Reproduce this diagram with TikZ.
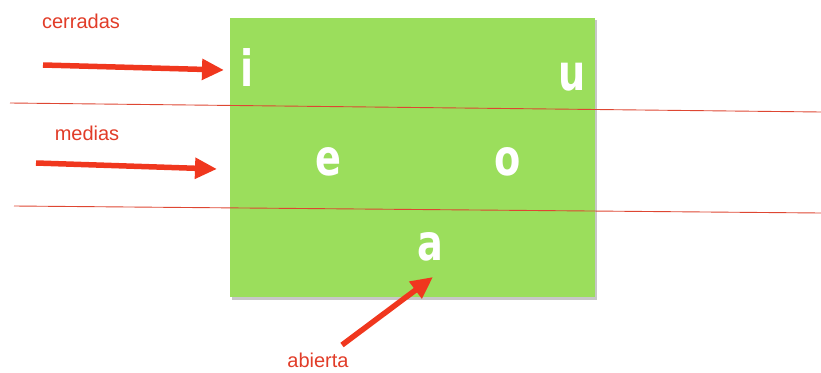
\documentclass[tikz,border=0pt]{standalone}
\usepackage{fontspec}
\setmainfont{Liberation Sans}
\newfontfamily\vowelfont{DejaVu Sans Condensed}
\usetikzlibrary{arrows.meta}
\definecolor{boxgreen}{RGB}{155,222,92}
\definecolor{linered}{RGB}{222,70,50}
\definecolor{arrowred}{RGB}{240,55,30}
\definecolor{labelred}{RGB}{225,60,40}
\tikzset{
  x=1pt,y=-1pt,
  vowel/.style={text=white,font=\vowelfont\bfseries\fontsize{50}{50}\selectfont,inner sep=0pt,xscale=0.85},
  label/.style={text=labelred,font=\fontsize{20}{20}\selectfont,inner sep=0pt},
  bigarrow/.style={draw=arrowred,line width=5.5pt,-{Triangle[length=22pt,width=20pt]}},
  divline/.style={draw=linered,line width=0.9pt}
}
\begin{document}
\begin{tikzpicture}
\useasboundingbox (0,0) rectangle (821,372);
\fill[black!22] (232,20) rectangle (597,300);
\fill[boxgreen] (230,18) rectangle (595,297);
\node[vowel] (i) at (247,68) {i};
\node[vowel] (u) at (572,77) {u};
\node[vowel] (e) at (328,162) {e};
\node[vowel] (o) at (508,162) {o};
\node[vowel] (a) at (430,247) {a};
\coordinate (l1a) at (10,103);
\coordinate (l1b) at (821,112);
\coordinate (l2a) at (14,206);
\coordinate (l2b) at (821,213);
\draw[divline] (l1a) -- (l1b);
\draw[divline] (l2a) -- (l2b);
\node[label] (cerradas) at (81,21) {cerradas};
\node[label] (medias) at (87,133) {medias};
\node[label] (abierta) at (318,360) {abierta};
\coordinate (c1) at (43,65);
\coordinate (c2) at (224,70);
\coordinate (m1) at (36,163);
\coordinate (m2) at (217,169);
\coordinate (b1) at (342,345);
\coordinate (b2) at (433,277);
\draw[bigarrow] (c1) -- (c2);
\draw[bigarrow] (m1) -- (m2);
\draw[bigarrow] (b1) -- (b2);
\end{tikzpicture}
\end{document}
